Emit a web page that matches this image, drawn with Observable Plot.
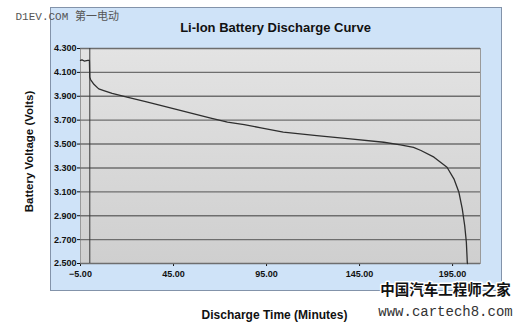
<!DOCTYPE html>
<html>
<head>
<meta charset="utf-8">
<script src="https://cdn.jsdelivr.net/npm/d3@7"></script>
<script src="https://cdn.jsdelivr.net/npm/@observablehq/plot@0.6"></script>
<style>
  body { margin: 0; background: #fff; }
  #wrap { position: relative; width: 523px; height: 326px; overflow: hidden; }
  #frame { position: absolute; left: 50px; top: 7px; width: 452px; height: 284px; box-sizing: border-box;
           background: #cfe3f8; border: 1px solid #8393aa; }
  #chart { position: absolute; left: 0; top: 0; }
</style>
</head>
<body>
<div id="wrap"><div id="frame"></div><div id="chart"></div></div>
<script>
const title = "Li-Ion Battery Discharge Curve";
const xLabel = "Discharge Time (Minutes)";
const yLabel = "Battery Voltage (Volts)";
const watermarkTop = "D1EV.COM 第一电动";
const watermarkCn = "中国汽车工程师之家";
const watermarkUrl = "www.cartech8.com";

const xTicks = [-5, 45, 95, 145, 195];
const yTicks = [2.5, 2.7, 2.9, 3.1, 3.3, 3.5, 3.7, 3.9, 4.1, 4.3];

const times = [-5, -4.2, -3, -1, -0.2, 0, 0.4, 2.2, 4.8, 7.5, 12, 20, 30, 38, 47, 56, 65, 74, 83, 92, 104, 122, 140, 158, 167, 174, 178, 185, 192, 195.7, 198.4, 200.2, 201.5, 202.4, 202.9, 203];
const volts = [4.2, 4.205, 4.195, 4.2, 4.2, 4.06, 4.04, 4.0, 3.962, 3.948, 3.925, 3.892, 3.855, 3.823, 3.788, 3.753, 3.718, 3.683, 3.662, 3.636, 3.6, 3.571, 3.544, 3.515, 3.493, 3.473, 3.446, 3.39, 3.306, 3.209, 3.096, 2.957, 2.818, 2.678, 2.51, 2.5];

const data = times.map((t, i) => ({t, v: volts[i]}));

const svg = Plot.plot({
  width: 523,
  height: 326,
  marginLeft: 80,
  marginRight: 43,
  marginTop: 48,
  marginBottom: 63,
  style: {background: "transparent", fontFamily: "Liberation Sans, Arial, sans-serif", fontSize: "9px", fontWeight: "bold", color: "#111"},
  x: {domain: [-5, 210], ticks: xTicks, tickFormat: ".2f", tickSize: 3, tickPadding: 4, label: null},
  y: {domain: [2.5, 4.3], ticks: yTicks, tickFormat: ".3f", tickSize: 3, tickPadding: 1, label: null},
  marks: [
    Plot.frame({fill: "#dadada", stroke: "#9a9a9a"}),
    Plot.ruleY(yTicks, {stroke: "#6e6e6e", strokeWidth: 1.4}),
    Plot.ruleX([0], {stroke: "#3a3a3a", strokeWidth: 1}),
    Plot.line(data, {x: "t", y: "v", stroke: "#2e2e2e", strokeWidth: 1.3}),
    Plot.text([title], {text: d => d, frameAnchor: "top", textAnchor: "middle", lineAnchor: "middle", dx: -5, dy: -21, fontSize: 13, fontWeight: "bold", fill: "#111"}),
    Plot.text([xLabel], {text: d => d, frameAnchor: "bottom", textAnchor: "middle", lineAnchor: "middle", dx: -6, dy: 52, fontSize: 12, fontWeight: "bold", fill: "#111"}),
    Plot.text([yLabel], {text: d => d, frameAnchor: "left", textAnchor: "middle", lineAnchor: "middle", rotate: -90, dx: -51, dy: -4.5, fontSize: 11.5, fontWeight: "bold", fill: "#111"}),
    Plot.text([watermarkTop], {text: d => d, frameAnchor: "top-left", textAnchor: "start", lineAnchor: "middle", dx: -65, dy: -32, fontSize: 11, fontWeight: "normal", fill: "#555", fontFamily: "Liberation Mono, Noto Sans CJK SC, monospace"}),
    Plot.text([watermarkCn], {text: d => d, frameAnchor: "bottom-right", textAnchor: "middle", lineAnchor: "middle", dx: -35, dy: 27, fontSize: 14.5, fontWeight: "bold", fill: "#111", stroke: "white", strokeWidth: 3, fontFamily: "Noto Sans CJK SC, sans-serif"}),
    Plot.text([watermarkUrl], {text: d => d, frameAnchor: "bottom-right", textAnchor: "middle", lineAnchor: "middle", dx: -35, dy: 48, fontSize: 14, fontWeight: "normal", fill: "#333", stroke: "white", strokeWidth: 4, fontFamily: "Liberation Mono, monospace"})
  ]
});

// vertical gradient for the plotting area
const defs = d3.select(svg).insert("defs", ":first-child");
const grad = defs.append("linearGradient").attr("id", "plotbg").attr("x1", 0).attr("y1", 0).attr("x2", 0).attr("y2", 1);
grad.append("stop").attr("offset", "0%").attr("stop-color", "#e3e3e3");
grad.append("stop").attr("offset", "100%").attr("stop-color", "#cfcfcf");
d3.select(svg).selectAll('[aria-label="frame"]').each(function() {
  const s = d3.select(this);
  if (this.tagName.toLowerCase() === "rect") s.attr("fill", "url(#plotbg)");
  s.selectAll("rect").attr("fill", "url(#plotbg)");
  if (this.tagName.toLowerCase() === "g" && s.attr("fill")) s.attr("fill", "url(#plotbg)");
});

document.getElementById("chart").appendChild(svg);
</script>
</body>
</html>
